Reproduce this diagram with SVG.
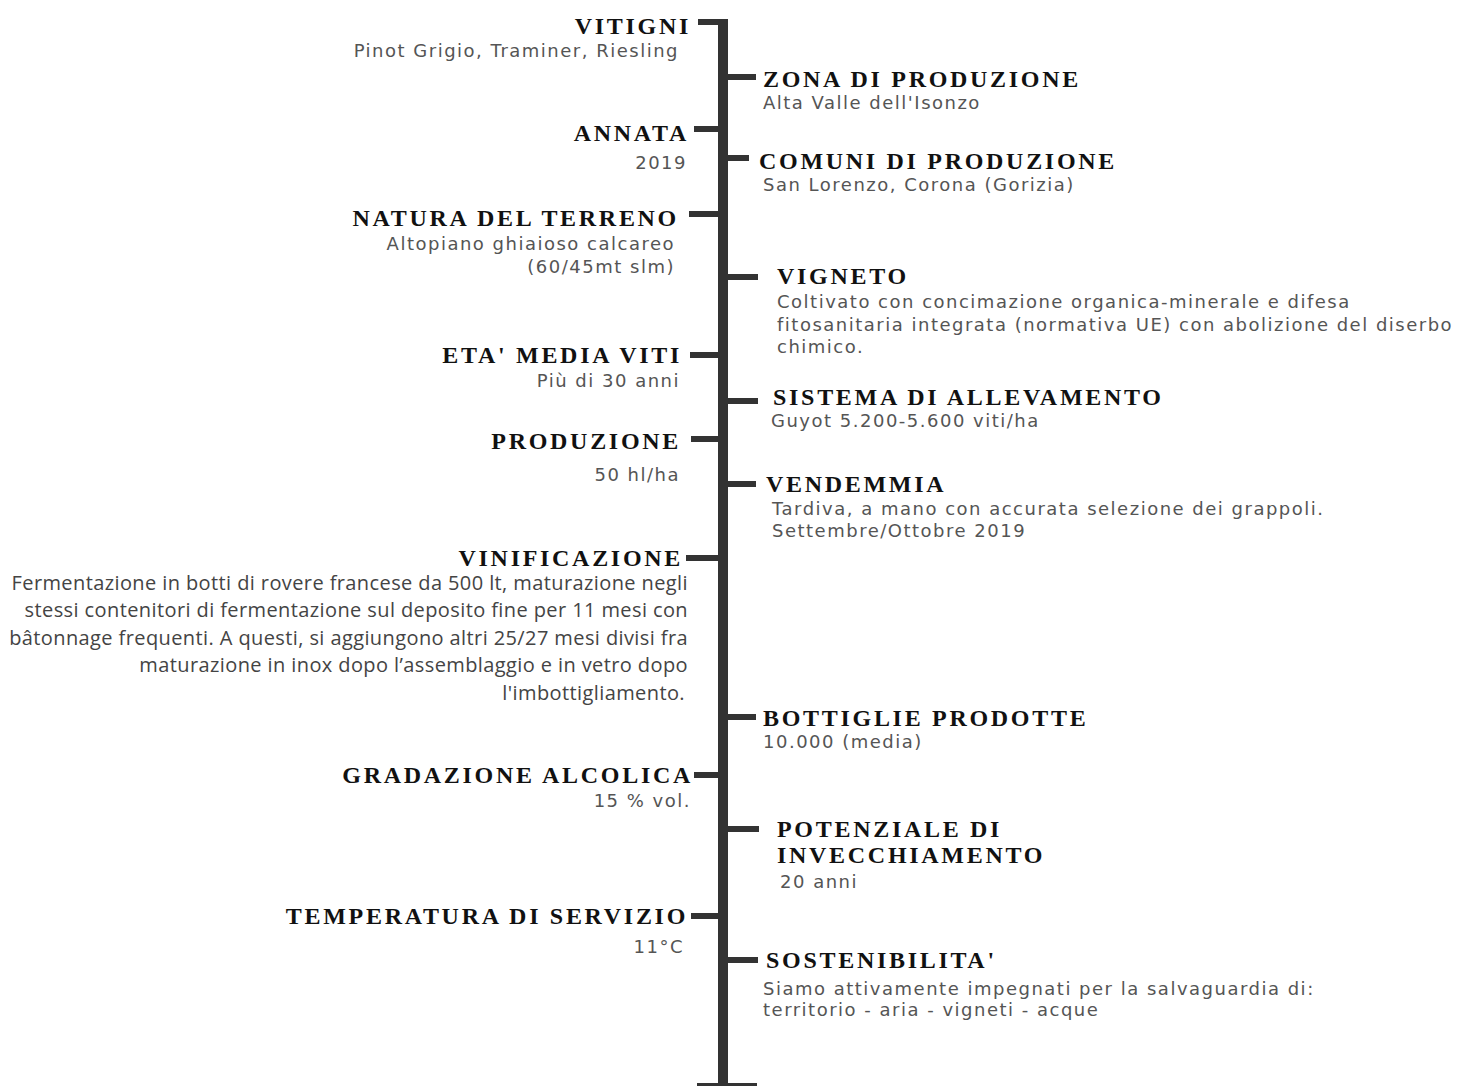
<svg xmlns="http://www.w3.org/2000/svg" width="1464" height="1086" viewBox="0 0 1464 1086">
<style>
.h{font-family:"Liberation Serif","Times New Roman",serif;font-weight:bold;font-size:24px;letter-spacing:2.7px;fill:#111}
.b{font-family:"DejaVu Sans",sans-serif;font-size:18px;letter-spacing:1.5px;fill:#555}
.v{font-family:"Open Sans",sans-serif;font-size:20px;letter-spacing:0.4px;fill:#444}
.e{text-anchor:end}
.ln{fill:#333}
</style>
<rect width="1464" height="1086" fill="#fff"/>
<g id="connectors" class="ln">
<rect x="718" y="19" width="10" height="1070"/>
<rect x="697" y="1083" width="60" height="6"/>
<rect x="698" y="19" width="20" height="6"/>
<rect x="694" y="126" width="24" height="6"/>
<rect x="689" y="211" width="29" height="6"/>
<rect x="690" y="352" width="28" height="6"/>
<rect x="691" y="436" width="27" height="6"/>
<rect x="686" y="555" width="32" height="6"/>
<rect x="694" y="772" width="24" height="6"/>
<rect x="691" y="913" width="27" height="6"/>
<rect x="728" y="74" width="28" height="6"/>
<rect x="728" y="155" width="21" height="6"/>
<rect x="728" y="274" width="30" height="6"/>
<rect x="728" y="398" width="30" height="6"/>
<rect x="728" y="481" width="28" height="6"/>
<rect x="728" y="714" width="28" height="6"/>
<rect x="728" y="826" width="31" height="6"/>
<rect x="728" y="957" width="30" height="6"/>
</g>
<g id="vitigni"><text class="h e" x="691" y="34">VITIGNI</text><text class="b e" x="679" y="57">Pinot Grigio, Traminer, Riesling</text></g>
<g id="annata"><text class="h e" x="689" y="141">ANNATA</text><text class="b e" x="687" y="169">2019</text></g>
<g id="natura"><text class="h e" x="679" y="226">NATURA DEL TERRENO</text><text class="b e" x="675" y="250">Altopiano ghiaioso calcareo</text><text class="b e" x="675" y="273">(60/45mt slm)</text></g>
<g id="eta"><text class="h e" x="682" y="363">ETA' MEDIA VITI</text><text class="b e" x="680" y="387">Più di 30 anni</text></g>
<g id="produzione"><text class="h e" x="681" y="449">PRODUZIONE</text><text class="b e" x="680" y="481">50 hl/ha</text></g>
<g id="vinificazione"><text class="h e" x="683" y="566">VINIFICAZIONE</text>
<text class="v e" x="688" y="590">Fermentazione in botti di rovere francese da 500 lt, maturazione negli</text>
<text class="v e" x="688" y="617">stessi contenitori di fermentazione sul deposito fine per 11 mesi con</text>
<text class="v e" x="688" y="645">bâtonnage frequenti. A questi, si aggiungono altri 25/27 mesi divisi fra</text>
<text class="v e" x="688" y="672">maturazione in inox dopo l’assemblaggio e in vetro dopo</text>
<text class="v e" x="685" y="700">l'imbottigliamento.</text></g>
<g id="gradazione"><text class="h e" x="693" y="783">GRADAZIONE ALCOLICA</text><text class="b e" x="691" y="807">15 % vol.</text></g>
<g id="temperatura"><text class="h e" x="688" y="924">TEMPERATURA DI SERVIZIO</text><text class="b e" x="684" y="953">11°C</text></g>
<g id="zona"><text class="h" x="763" y="87">ZONA DI PRODUZIONE</text><text class="b" x="763" y="109">Alta Valle dell'Isonzo</text></g>
<g id="comuni"><text class="h" x="759" y="169">COMUNI DI PRODUZIONE</text><text class="b" x="763" y="191">San Lorenzo, Corona (Gorizia)</text></g>
<g id="vigneto"><text class="h" x="777" y="284">VIGNETO</text><text class="b" x="777" y="308">Coltivato con concimazione organica-minerale e difesa</text><text class="b" x="777" y="331">fitosanitaria integrata (normativa UE) con abolizione del diserbo</text><text class="b" x="777" y="353">chimico.</text></g>
<g id="sistema"><text class="h" x="773" y="405">SISTEMA DI ALLEVAMENTO</text><text class="b" x="771" y="427">Guyot 5.200-5.600 viti/ha</text></g>
<g id="vendemmia"><text class="h" x="766" y="492">VENDEMMIA</text><text class="b" x="772" y="515">Tardiva, a mano con accurata selezione dei grappoli.</text><text class="b" x="772" y="537">Settembre/Ottobre 2019</text></g>
<g id="bottiglie"><text class="h" x="763" y="726">BOTTIGLIE PRODOTTE</text><text class="b" x="763" y="748">10.000 (media)</text></g>
<g id="potenziale"><text class="h" x="777" y="837">POTENZIALE DI</text><text class="h" x="777" y="863">INVECCHIAMENTO</text><text class="b" x="780" y="888">20 anni</text></g>
<g id="sostenibilita"><text class="h" x="766" y="968">SOSTENIBILITA'</text><text class="b" x="763" y="995">Siamo attivamente impegnati per la salvaguardia di:</text><text class="b" x="763" y="1016">territorio - aria - vigneti - acque</text></g>
</svg>
